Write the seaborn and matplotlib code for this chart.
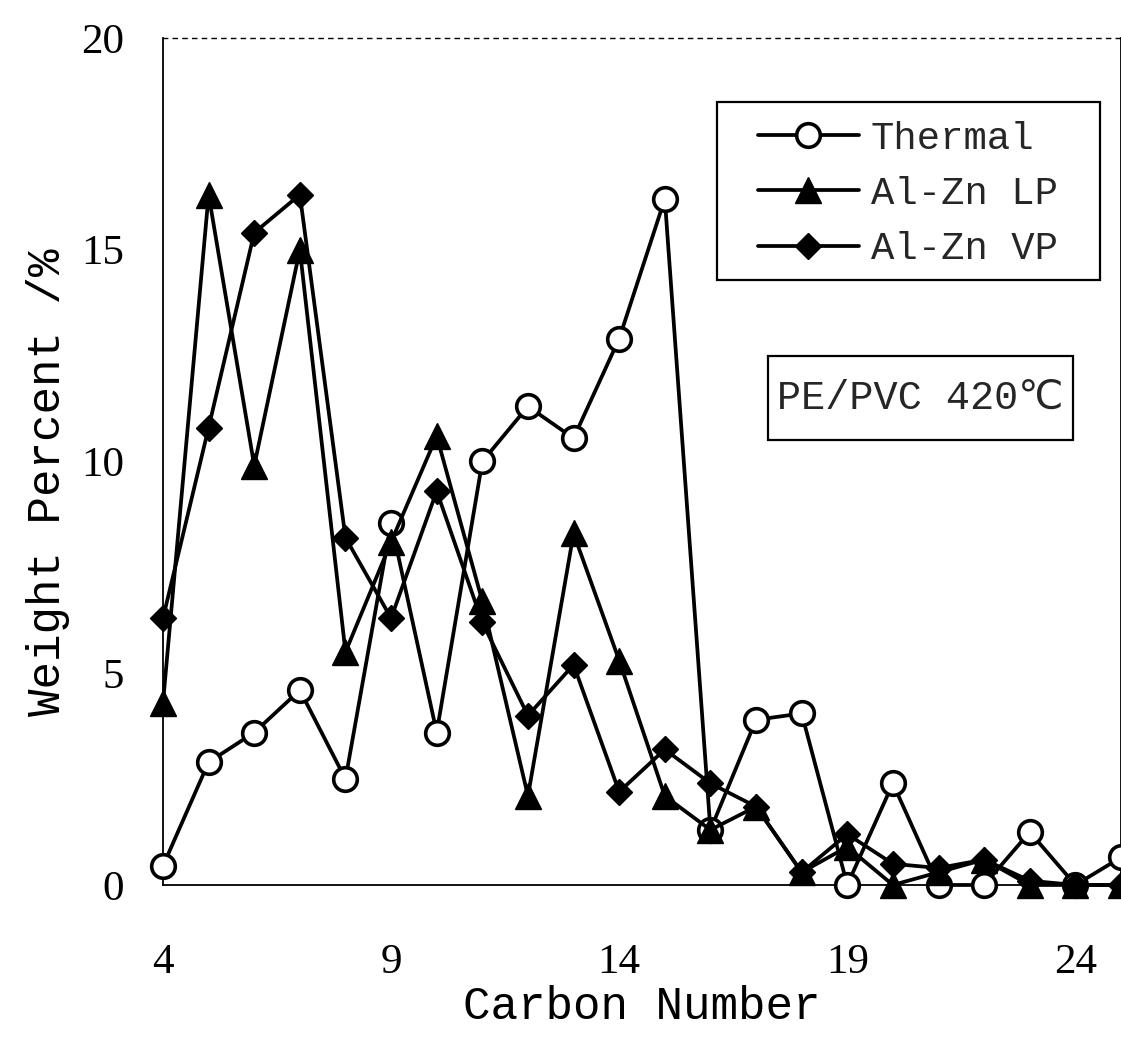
import matplotlib
matplotlib.use("Agg")
import matplotlib.pyplot as plt
from matplotlib.patches import Rectangle
import seaborn as sns
import pandas as pd

carbon = list(range(4, 26))
thermal = [0.45, 2.9, 3.6, 4.6, 2.5, 8.55, 3.6, 10.0, 11.3, 10.55, 12.9, 16.2,
           1.3, 3.9, 4.05, 0.0, 2.4, 0.0, 0.0, 1.25, 0.0, 0.65]
alzn_lp = [4.3, 16.3, 9.9, 15.0, 5.5, 8.1, 10.6, 6.7, 2.1, 8.3, 5.3, 2.1,
           1.3, 1.85, 0.3, 0.9, 0.0, 0.3, 0.6, 0.0, 0.0, 0.0]
alzn_vp = [6.3, 10.8, 15.4, 16.3, 8.2, 6.3, 9.3, 6.2, 4.0, 5.2, 2.2, 3.2,
           2.4, 1.85, 0.3, 1.2, 0.5, 0.4, 0.6, 0.1, 0.0, 0.0]
series_names = ["Thermal", "Al-Zn LP", "Al-Zn VP"]
xticks = [4, 9, 14, 19, 24]
yticks = [0, 5, 10, 15, 20]

sns.set_style("white")
MONO = ["Liberation Mono", "DejaVu Sans Mono", "DejaVu Sans"]
plt.rcParams["font.family"] = MONO

fig = plt.figure(figsize=(11.21, 10.37), dpi=100)
ax = fig.add_axes([0.1454, 0.1466, 1.0 - 0.1454, 0.9634 - 0.1466])

df = pd.DataFrame({"Carbon": carbon, "Thermal": thermal,
                   "Al-Zn LP": alzn_lp, "Al-Zn VP": alzn_vp})

styles = {
    "Thermal": dict(marker="o", markersize=17, markerfacecolor="white",
                    markeredgecolor="black", markeredgewidth=2.6),
    "Al-Zn LP": dict(marker="^", markersize=19, markerfacecolor="black",
                     markeredgecolor="black", markeredgewidth=1.0),
    "Al-Zn VP": dict(marker="D", markersize=13, markerfacecolor="black",
                     markeredgecolor="black", markeredgewidth=1.0),
}
for name in series_names:
    sns.lineplot(data=df, x="Carbon", y=name, ax=ax, color="black",
                 linewidth=2.7, label=name, clip_on=False, zorder=3,
                 **styles[name])

ax.set_xlim(4, 25)
ax.set_ylim(0, 20)
ax.set_xticks(xticks)
ax.set_xticklabels([str(t) for t in xticks])
ax.set_yticks(yticks)
ax.set_yticklabels([str(t) for t in yticks])

for lab in ax.get_xticklabels() + ax.get_yticklabels():
    lab.set_family(["Liberation Serif", "DejaVu Serif"])
    lab.set_fontsize(31)

ax.tick_params(axis="x", direction="in", length=12, width=1.2, pad=42, colors="black")
ax.tick_params(axis="y", direction="in", length=12, width=1.2, pad=28, colors="black")

for sp in ax.spines.values():
    sp.set_visible(True)
    sp.set_color("black")
    sp.set_linewidth(1.3)
ax.spines["top"].set_linestyle((0, (3, 4)))
ax.spines["top"].set_linewidth(1.0)

ax.set_xlabel("Carbon Number", fontsize=33, labelpad=2, color="black")
ax.set_ylabel("Weight Percent /%", fontsize=33, color="black")
ax.yaxis.set_label_coords(-0.097, 0.476)

# legend (frame drawn separately for the wide horizontal padding)
leg = ax.legend(loc="upper left", bbox_to_anchor=(0.621, 0.9025), fontsize=28,
                frameon=False, handlelength=2.6, labelspacing=0.5,
                handletextpad=0.3, borderpad=0, borderaxespad=0)
ax.add_patch(Rectangle((0.578, 0.7143), 0.978 - 0.578, 0.9244 - 0.7143,
                       transform=ax.transAxes, fill=False, edgecolor="black",
                       linewidth=1.6, zorder=4, clip_on=False))

# annotation box
ax.add_patch(Rectangle((0.6315, 0.5254), 0.950 - 0.6315, 0.6246 - 0.5254,
                       transform=ax.transAxes, facecolor="white", edgecolor="black",
                       linewidth=1.6, zorder=4, clip_on=False))
ax.text(0.790, 0.575, "PE/PVC 420\u2103", transform=ax.transAxes, fontsize=29,
        family=MONO, va="center", ha="center", zorder=5)

fig.savefig("out.png", dpi=100)
